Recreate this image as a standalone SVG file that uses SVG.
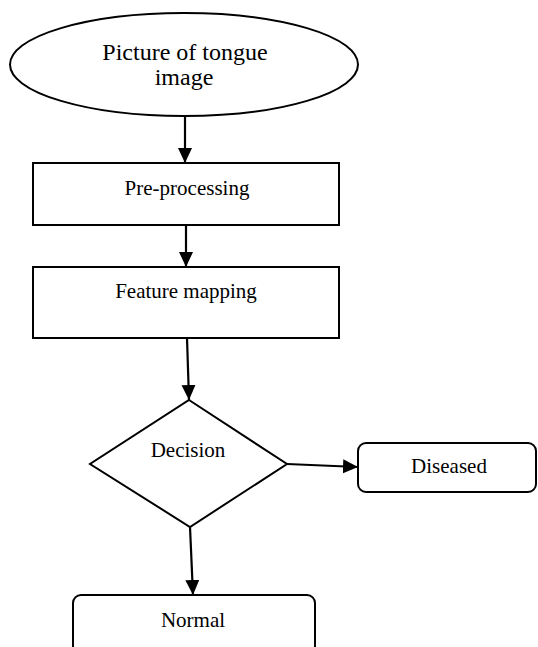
<svg xmlns="http://www.w3.org/2000/svg" width="538" height="647" viewBox="0 0 538 647">
  <style>
    .shape { fill: #ffffff; stroke: #000000; stroke-width: 2; }
    .conn { stroke: #000000; stroke-width: 2.2; fill: none; marker-end: url(#arrow); }
    .lbl { font-family: "Liberation Serif", "Times New Roman", serif; font-size: 21px; fill: #000000; text-anchor: middle; }
    .title { font-size: 24px; }
  </style>
  <defs>
    <marker id="arrow" markerUnits="userSpaceOnUse" markerWidth="16" markerHeight="15" refX="15" refY="7" orient="auto">
      <path d="M0,0 L15,7 L0,14 Z" fill="#000000"/>
    </marker>
  </defs>
  <rect width="538" height="647" fill="#ffffff"/>

  <g id="start">
    <ellipse class="shape" cx="184" cy="64.5" rx="174" ry="51.5"/>
    <text class="lbl title" x="185" y="60">Picture of tongue</text>
    <text class="lbl title" x="184" y="85">image</text>
  </g>

  <g id="preprocessing">
    <rect class="shape" x="33" y="163" width="306" height="62"/>
    <text class="lbl" x="187" y="195">Pre-processing</text>
  </g>

  <g id="feature-mapping">
    <rect class="shape" x="33" y="267" width="306" height="71"/>
    <text class="lbl" x="186" y="298">Feature mapping</text>
  </g>

  <g id="decision">
    <polygon class="shape" points="189,400 287,464 190,527 90,464"/>
    <text class="lbl" x="188" y="457">Decision</text>
  </g>

  <g id="diseased">
    <rect class="shape" x="358" y="443" width="178" height="49" rx="8" ry="8"/>
    <text class="lbl" x="449" y="473">Diseased</text>
  </g>

  <g id="normal">
    <rect class="shape" x="73" y="595" width="242" height="66" rx="8" ry="8"/>
    <text class="lbl" x="193" y="627">Normal</text>
  </g>

  <g id="connectors">
    <line class="conn" x1="185" y1="117" x2="185" y2="163"/>
    <line class="conn" x1="186" y1="225" x2="186" y2="267"/>
    <line class="conn" x1="187" y1="338" x2="189" y2="400"/>
    <line class="conn" x1="287" y1="464" x2="358" y2="467"/>
    <line class="conn" x1="190" y1="527" x2="193" y2="595"/>
  </g>
</svg>
